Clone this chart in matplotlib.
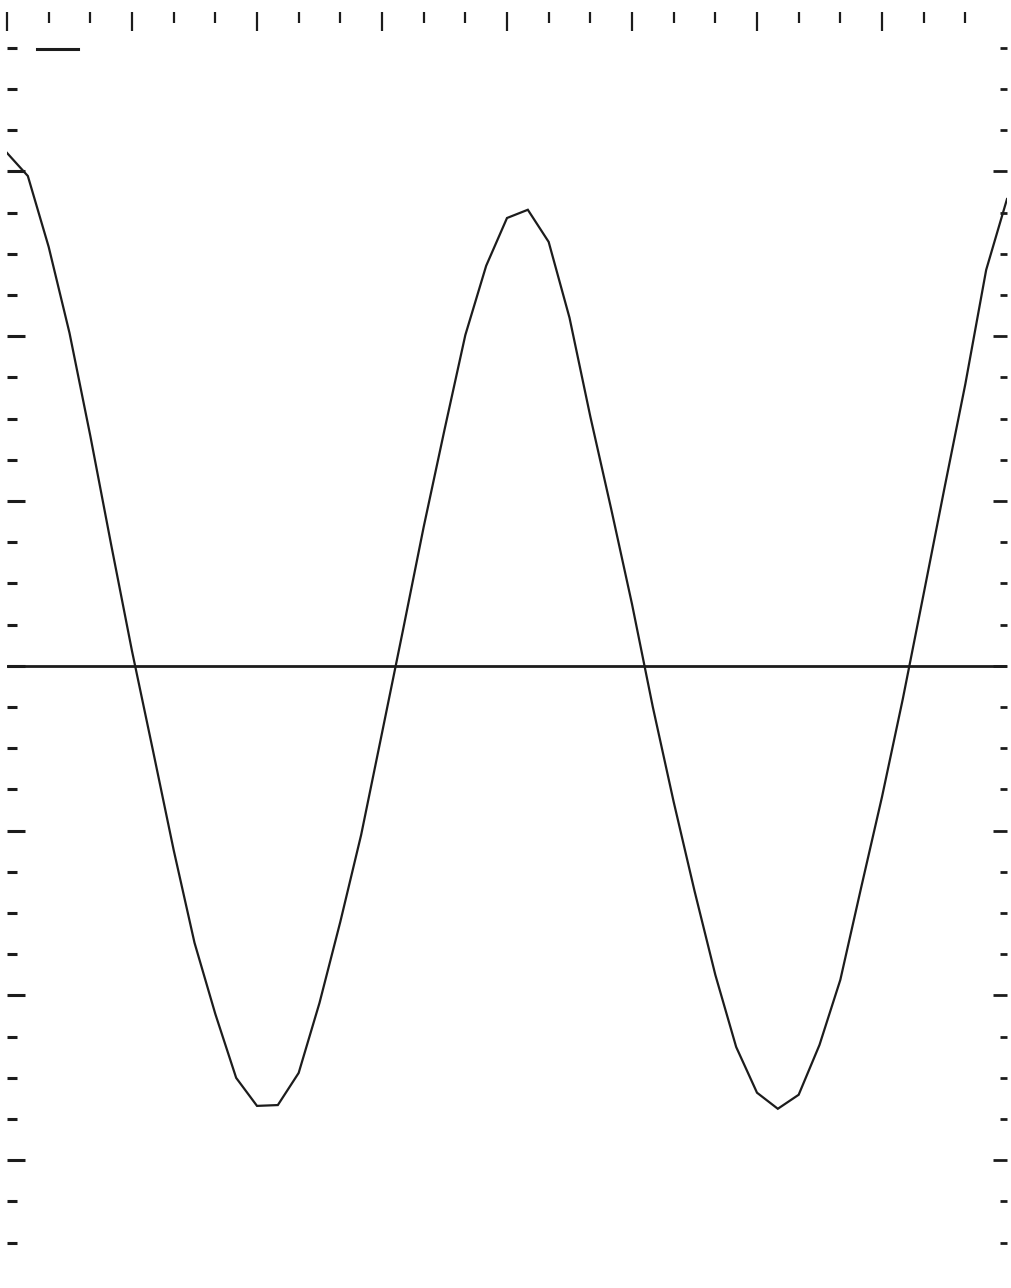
import numpy as np
import matplotlib
matplotlib.use("Agg")
import matplotlib.pyplot as plt

# data (x in top-tick units, y in side-tick units)
x_vals = np.arange(0, 24.5, 0.5)
y_vals = [12.45, 11.89, 10.17, 8.08, 5.58, 2.94, 0.36, -2.04, -4.47, -6.72,
          -8.45, -10.0, -10.68, -10.66, -9.88, -8.18, -6.21, -4.10, -1.63, 0.85,
          3.37, 5.73, 8.03, 9.71, 10.87, 11.07, 10.29, 8.45, 6.05, 3.81,
          1.5, -1.0, -3.3, -5.46, -7.5, -9.25, -10.36, -10.75, -10.41, -9.2,
          -7.62, -5.38, -3.18, -0.8, 1.75, 4.32, 6.84, 9.61, 11.33]

top_ticks = np.arange(0, 24)
top_major = [t for t in top_ticks if t % 3 == 0]
side_ticks = np.arange(-14, 16)
side_major = [t for t in side_ticks if t % 4 == 0]

ink = "#1c1c1c"

fig = plt.figure(figsize=(10.11, 12.88), dpi=100)
ax = fig.add_axes([7 / 1011, 0, 1000 / 1011, 1276 / 1288])

ax.plot(x_vals, y_vals, color=ink, lw=1.6, solid_joinstyle="miter")
ax.axhline(0, color=ink, lw=2.0)

ax.set_xlim(0, 24)
ax.set_ylim(-15.1, 15.87)

for s in ax.spines.values():
    s.set_visible(False)

# top ticks
ax.xaxis.set_ticks_position("top")
ax.set_xticks(top_major)
ax.set_xticks(top_ticks, minor=True)
ax.tick_params(axis="x", which="major", direction="in", length=14, width=1.6,
               color=ink, labeltop=False, labelbottom=False)
ax.tick_params(axis="x", which="minor", direction="in", length=8, width=1.6,
               color=ink)

# left ticks
ax.set_yticks(side_major)
ax.set_yticks(side_ticks, minor=True)
ax.tick_params(axis="y", which="major", direction="in", length=13, width=2.2,
               color=ink, labelleft=False, right=False)
ax.tick_params(axis="y", which="minor", direction="in", length=7, width=2.2,
               color=ink, right=False)

# right ticks (shorter)
sec = ax.secondary_yaxis("right")
sec.spines["right"].set_visible(False)
sec.set_yticks(side_major)
sec.set_yticks(side_ticks, minor=True)
sec.tick_params(which="major", direction="in", length=10, width=2.0,
                color=ink, labelright=False)
sec.tick_params(which="minor", direction="in", length=5, width=2.0, color=ink)

# short marker segment in the upper left corner
ax.plot([0.03, 0.071], [0.971, 0.971], transform=ax.transAxes,
        color=ink, lw=2.2, clip_on=False)

fig.savefig("out.png", dpi=100, facecolor="white")
